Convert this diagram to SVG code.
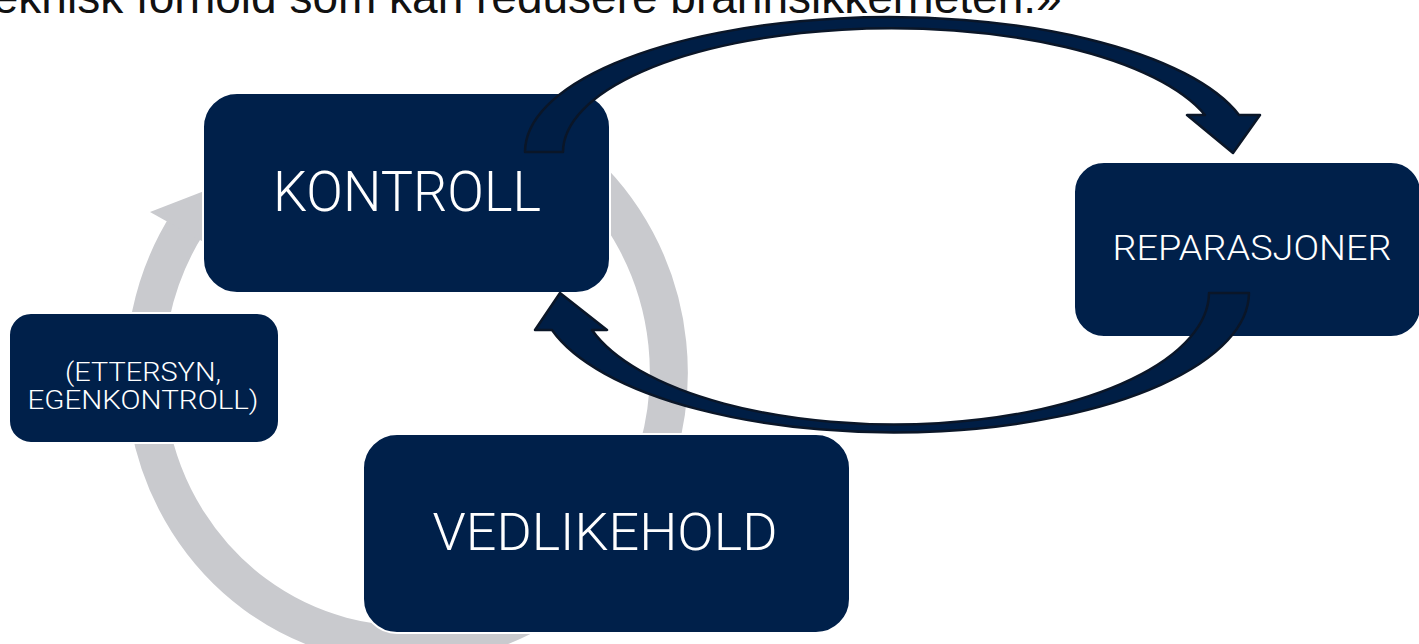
<svg xmlns="http://www.w3.org/2000/svg" width="1419" height="644" viewBox="0 0 1419 644">
<style>
.box{fill:#00204a;stroke:#ffffff;stroke-width:2}
.lbl{fill:#ffffff;font-family:Roboto,"Liberation Sans",sans-serif;font-weight:300;text-anchor:middle}
.ring{fill:none;stroke:#c9cace;stroke-width:38}
.ringhead{fill:#c9cace}
.arrow{fill:#001e45;stroke:#0a1628;stroke-width:2.5;stroke-linejoin:round}
.top{font-family:"Liberation Sans",Arial,sans-serif;font-size:46px;fill:#111111}
</style>
<rect width="1419" height="644" fill="#ffffff"/>
<g id="cycle">
<path class="ring" d="M 575,164 A 262 272 0 1 1 188,223"/>
<polygon class="ringhead" points="150,212 218,250 212,188"/>
</g>
<g id="node-kontroll">
<rect class="box" x="203" y="93" width="407" height="200" rx="34"/>
<text class="lbl" x="407" y="211" font-size="55" textLength="268" lengthAdjust="spacingAndGlyphs">KONTROLL</text>
</g>
<g id="node-ettersyn">
<rect class="box" x="9" y="313" width="270" height="130" rx="22"/>
<text class="lbl" x="143" y="381" font-size="26" textLength="156" lengthAdjust="spacingAndGlyphs">(ETTERSYN,</text>
<text class="lbl" x="143" y="409" font-size="26" textLength="231" lengthAdjust="spacingAndGlyphs">EGENKONTROLL)</text>
</g>
<g id="node-vedlikehold">
<rect class="box" x="363" y="434" width="487" height="199" rx="34"/>
<text class="lbl" x="605" y="550" font-size="52" textLength="345" lengthAdjust="spacingAndGlyphs">VEDLIKEHOLD</text>
</g>
<g id="node-reparasjoner">
<rect class="box" x="1074" y="162" width="347" height="175" rx="30"/>
<text class="lbl" x="1252" y="260" font-size="35" textLength="279" lengthAdjust="spacingAndGlyphs">REPARASJONER</text>
</g>
<g id="connectors">
<path class="arrow" d="M 525,152 A 364 135 0 0 1 1239,115 L 1260,115 L 1233,153 L 1187,115 L 1205,115 A 328.6 124 0 0 0 563,152 Z"/>
<path class="arrow" d="M 1249,293 A 355 140 0 0 1 552,330 L 535,330 L 560,293 L 607,330 L 592,330 A 315 132 0 0 0 1209,293 Z"/>
</g>
<text class="top" x="-20" y="13">teknisk forhold som kan redusere brannsikkerheten.»</text>
</svg>
